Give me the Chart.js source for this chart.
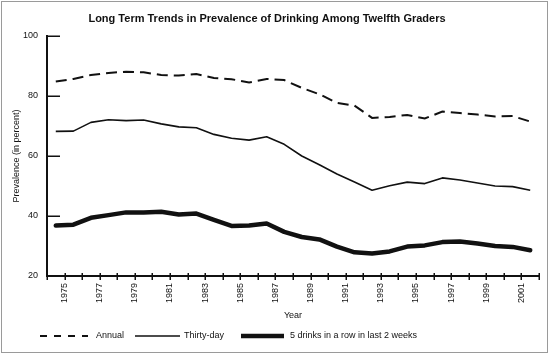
<!DOCTYPE html>
<html>
<head>
<meta charset="utf-8">
<title>Long Term Trends in Prevalence of Drinking Among Twelfth Graders</title>
<script src="https://cdn.jsdelivr.net/npm/chart.js@4.4.1/dist/chart.umd.min.js"></script>
<style>
    html, body { margin:0; padding:0; background:#fff; }
    #wrap { width:550px; height:354px; position:relative; }
</style>
</head>
<body>
<div id="wrap"><canvas id="drinkChart"></canvas></div>
<script>
// ===============================
// DATA
// ===============================

const years = ["1975","1976","1977","1978","1979","1980","1981","1982","1983","1984",
    "1985","1986","1987","1988","1989","1990","1991","1992","1993","1994",
    "1995","1996","1997","1998","1999","2000","2001","2002"];

const annual = [84.8, 85.7, 87.0, 87.7, 88.1, 87.9, 87.0, 86.8, 87.3, 86.0,
    85.6, 84.5, 85.7, 85.3, 82.7, 80.6, 77.7, 76.8, 72.7, 73.0,
    73.7, 72.5, 74.8, 74.3, 73.8, 73.2, 73.3, 71.5];

const thirtyDay = [68.2, 68.3, 71.2, 72.1, 71.8, 72.0, 70.7, 69.7, 69.4, 67.2,
    65.9, 65.3, 66.4, 63.9, 60.0, 57.1, 54.0, 51.3, 48.6, 50.1,
    51.3, 50.8, 52.7, 52.0, 51.0, 50.0, 49.8, 48.6];

const fiveDrinks = [36.8, 37.1, 39.4, 40.3, 41.2, 41.2, 41.4, 40.5, 40.8, 38.7,
    36.7, 36.8, 37.5, 34.7, 33.0, 32.2, 29.8, 27.9, 27.5, 28.2,
    29.8, 30.2, 31.3, 31.5, 30.8, 30.0, 29.7, 28.6];

const yTicks = [20, 40, 60, 80, 100];

const seriesNames = ["Annual", "Thirty-day", "5 drinks in a row in last 2 weeks"];

const titleText = "Long Term Trends in Prevalence of Drinking Among Twelfth Graders";

// ===============================
// FONTS
// ===============================

const narrow = "'Liberation Sans Narrow', 'Arial Narrow', 'Liberation Sans', Arial, sans-serif";
const smallSize = 9;
const ink = "#111";

// legend layout (sample start, sample end, text start)
const legendPos = [[40, 88, 96], [135, 180, 184], [241, 284, 290]];

// ===============================
// PLUGIN : frame, title, ticks, legend
// ===============================

const decorPlugin = {

    id:"decor",

    beforeDraw(chart){
        const c = chart.ctx;
        c.save();
        c.fillStyle = "#fff";
        c.fillRect(0, 0, chart.width, chart.height);
        c.strokeStyle = "#9a9a9a";
        c.lineWidth = 1;
        c.strokeRect(1.5, 1.5, 546, 351);
        c.restore();
    },

    afterDraw(chart){
        const c = chart.ctx;
        const x = chart.scales.x;
        const y = chart.scales.y;

        c.save();

        // title
        c.fillStyle = ink;
        c.font = "bold 11px 'Liberation Sans', Arial, sans-serif";
        c.textAlign = "center";
        c.textBaseline = "middle";
        c.fillText(titleText, 267, 19);

        // y ticks, pointing inward
        c.strokeStyle = ink;
        c.lineWidth = 1.5;
        c.beginPath();
        yTicks.forEach(v=>{
            const py = Math.round(y.getPixelForValue(v)) + 0.25;
            c.moveTo(chart.chartArea.left, py);
            c.lineTo(chart.chartArea.left + 13, py);
        });
        c.stroke();

        // x ticks, crossing the axis at the year boundaries
        c.beginPath();
        for(let i = 0; i <= years.length; i++){
            const px = Math.round(x.getPixelForValue(i - 0.5)) + 0.25;
            c.moveTo(px, chart.chartArea.bottom - 3);
            c.lineTo(px, chart.chartArea.bottom + 4);
        }
        c.stroke();

        // legend
        const ly = 336;
        c.font = smallSize + "px " + narrow;
        c.textAlign = "left";
        chart.data.datasets.forEach((ds, i)=>{
            const p = legendPos[i];
            c.beginPath();
            c.strokeStyle = ds.borderColor;
            c.lineWidth = ds.borderWidth;
            c.lineCap = "butt";
            c.setLineDash(i === 0 ? [7, 7] : []);
            c.moveTo(p[0], ly);
            c.lineTo(p[1], ly);
            c.stroke();
            c.setLineDash([]);
            c.fillStyle = ink;
            c.fillText(ds.label, p[2], ly);
        });

        c.restore();
    }

};

// ===============================
// CHART
// ===============================

const ctx = document.getElementById("drinkChart").getContext("2d");

const chart = new Chart(ctx,{

    type:"line",

    data:{

        labels:years,

        datasets:[{
            label:seriesNames[0],
            data:annual,
            borderColor:ink,
            borderWidth:2,
            borderDash:[11, 6],
            pointRadius:0,
            tension:0
        },{
            label:seriesNames[1],
            data:thirtyDay,
            borderColor:ink,
            borderWidth:1.6,
            borderJoinStyle:"round",
            pointRadius:0,
            tension:0
        },{
            label:seriesNames[2],
            data:fiveDrinks,
            borderColor:ink,
            borderWidth:4.5,
            borderJoinStyle:"round",
            borderCapStyle:"round",
            pointRadius:0,
            tension:0
        }]

    },

    options:{

        responsive:true,

        maintainAspectRatio:false,

        animation:false,

        layout:{
            padding:{ top:36, right:11, bottom:30, left:0 }
        },

        plugins:{
            legend:{ display:false },
            title:{ display:false },
            tooltip:{ enabled:false }
        },

        scales:{

            x:{
                type:"category",
                offset:true,
                grid:{ display:false, drawTicks:false },
                border:{ display:true, color:ink, width:2 },
                ticks:{
                    autoSkip:false,
                    minRotation:90,
                    maxRotation:90,
                    padding:7,
                    labelOffset:8.76,
                    color:ink,
                    font:{ family:narrow, size:smallSize },
                    callback:function(val, i){
                        const yr = years[i];
                        return Number(yr) % 2 === 1 ? yr : "";
                    }
                },
                title:{
                    display:true,
                    text:"Year",
                    color:ink,
                    font:{ family:narrow, size:smallSize },
                    padding:{ top:0, bottom:3 }
                },
                afterFit:function(scale){
                    scale.height = 48;
                }
            },

            y:{
                min:20,
                max:100,
                grid:{ display:false, drawTicks:false },
                border:{ display:true, color:ink, width:2 },
                afterBuildTicks:function(scale){
                    scale.ticks = yTicks.map(v=>({ value:v }));
                },
                ticks:{
                    padding:9,
                    color:ink,
                    font:{ family:narrow, size:smallSize }
                },
                title:{
                    display:true,
                    text:"Prevalence (in percent)",
                    color:ink,
                    font:{ family:narrow, size:smallSize },
                    padding:{ top:11, bottom:0 }
                },
                afterFit:function(scale){
                    scale.width = 47;
                }
            }

        }

    },

    plugins:[decorPlugin]

});
</script>
</body>
</html>
